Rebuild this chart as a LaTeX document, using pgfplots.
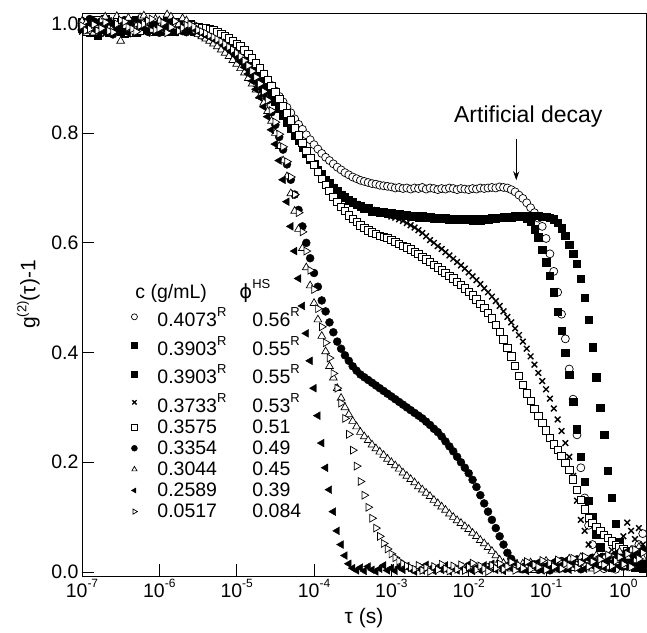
\documentclass[border=0pt]{standalone}
\usepackage{fontspec}
\setmainfont{Liberation Sans}
\newfontfamily\dejavu{DejaVu Sans}
\usepackage{pgfplots}
\pgfplotsset{compat=1.18}
\usepackage{pgfplotstable}
\usetikzlibrary{arrows.meta}

% g2(tau)-1 curves
% a: 0.4073  b,c: 0.3903  d: 0.3733  e: 0.3575  f: 0.3354  g: 0.3044  h: 0.2589  i: 0.0517
\pgfplotstableread{
t a b c d e f g h i
1.000e-7 0.995 0.990 1.002 0.985 0.998 0.992 1.004 0.988 0.996
1.122e-7 0.991 0.996 0.989 1.006 0.985 0.993 1.000 0.994 0.987
1.259e-7 0.988 1.005 0.983 0.998 0.992 1.008 0.986 0.999 0.990
1.413e-7 0.997 0.984 1.001 0.992 0.995 1.004 0.983 0.989 0.998
1.585e-7 1.001 0.978 0.995 0.990 1.006 0.984 0.997 1.003 0.987
1.778e-7 0.985 1.007 0.993 0.986 0.999 0.990 1.006 0.997 0.991
1.995e-7 0.992 0.996 1.008 0.981 0.989 0.999 1.012 0.985 1.002
2.239e-7 1.002 0.990 0.984 0.995 0.988 0.997 0.991 1.004 0.986
2.512e-7 0.997 0.987 0.991 1.004 0.995 0.980 0.993 0.998 0.984
2.818e-7 0.990 0.997 1.003 0.983 1.004 0.987 1.013 0.992 0.999
3.162e-7 0.986 1.002 0.985 0.994 1.001 0.996 0.968 0.990 1.006
3.548e-7 0.996 0.981 0.992 1.001 0.991 1.006 0.995 0.986 1.003
3.981e-7 1.004 0.991 0.999 0.987 0.984 1.003 1.010 0.982 0.993
4.467e-7 0.987 1.004 0.988 0.993 0.997 0.992 0.985 1.000 0.990
5.012e-7 0.990 0.983 1.006 0.999 0.997 0.988 0.995 1.007 0.985
5.623e-7 1.005 0.993 0.998 0.989 0.986 0.999 1.011 0.994 0.996
6.310e-7 0.998 1.000 0.989 0.984 1.005 0.993 1.014 0.991 0.999
7.079e-7 0.994 0.988 1.002 0.997 1.003 0.985 0.997 0.983 1.005
7.943e-7 0.985 0.994 0.997 1.003 0.990 1.001 0.988 0.996 1.008
8.913e-7 0.989 1.001 0.986 0.991 0.994 1.002 1.008 0.999 0.988
1.000e-6 1.003 0.986 0.992 0.993 0.999 0.983 1.005 0.989 0.991
1.122e-6 0.999 0.992 0.995 1.004 0.987 0.994 0.989 0.991 1.001
1.259e-6 0.993 0.998 1.004 0.986 0.988 0.997 1.016 1.001 0.983
1.413e-6 0.992 0.985 1.003 0.988 1.000 0.989 1.012 1.004 0.993
1.585e-6 0.989 0.991 0.985 0.997 1.002 0.990 0.994 0.984 1.004
1.778e-6 1.001 0.997 0.990 0.994 0.992 1.000 0.998 0.988 0.986
1.995e-6 0.999 1.003 0.994 0.989 0.994 0.986 1.009 0.993 0.992
2.239e-6 0.988 0.994 0.997 1.000 0.999 0.984 1.005 0.996 0.997
2.512e-6 0.994 0.988 0.999 0.995 0.997 0.991 0.990 0.987 0.998
2.818e-6 0.996 0.986 0.991 0.992 0.993 0.988 0.986 0.990 0.994
3.162e-6 0.993 0.989 0.993 0.990 0.994 0.982 0.980 0.985 0.988
3.548e-6 0.990 0.991 0.986 0.988 0.992 0.978 0.976 0.982 0.985
3.981e-6 0.988 0.984 0.988 0.987 0.991 0.975 0.972 0.978 0.982
4.467e-6 0.986 0.983 0.981 0.985 0.990 0.971 0.968 0.975 0.978
5.012e-6 0.983 0.979 0.982 0.981 0.987 0.967 0.963 0.971 0.975
5.623e-6 0.980 0.977 0.975 0.978 0.984 0.963 0.958 0.968 0.971
6.310e-6 0.976 0.971 0.973 0.972 0.981 0.958 0.952 0.965 0.967
7.079e-6 0.972 0.968 0.966 0.969 0.977 0.953 0.946 0.958 0.962
7.943e-6 0.968 0.962 0.964 0.963 0.973 0.947 0.940 0.952 0.957
8.913e-6 0.963 0.957 0.956 0.958 0.968 0.941 0.933 0.946 0.952
1.000e-5 0.958 0.951 0.952 0.950 0.963 0.935 0.926 0.940 0.946
1.122e-5 0.952 0.944 0.943 0.945 0.958 0.928 0.918 0.930 0.940
1.259e-5 0.945 0.936 0.937 0.935 0.951 0.920 0.910 0.920 0.932
1.413e-5 0.939 0.928 0.927 0.929 0.944 0.911 0.900 0.908 0.923
1.585e-5 0.931 0.920 0.921 0.919 0.936 0.901 0.890 0.895 0.913
1.778e-5 0.923 0.910 0.909 0.911 0.927 0.890 0.879 0.880 0.902
1.995e-5 0.915 0.900 0.901 0.899 0.918 0.879 0.867 0.865 0.890
2.239e-5 0.906 0.890 0.889 0.891 0.908 0.870 0.855 0.848 0.876
2.512e-5 0.897 0.879 0.880 0.878 0.897 0.860 0.840 0.830 0.860
2.818e-5 0.887 0.868 0.867 0.869 0.886 0.838 0.822 0.806 0.841
3.162e-5 0.877 0.857 0.858 0.856 0.874 0.815 0.800 0.780 0.820
3.548e-5 0.867 0.845 0.844 0.846 0.862 0.793 0.776 0.750 0.798
3.981e-5 0.857 0.833 0.834 0.832 0.849 0.770 0.750 0.715 0.775
4.467e-5 0.847 0.821 0.820 0.822 0.836 0.743 0.721 0.675 0.748
5.012e-5 0.837 0.809 0.810 0.808 0.823 0.715 0.690 0.630 0.720
5.623e-5 0.826 0.797 0.796 0.798 0.809 0.688 0.658 0.585 0.688
6.310e-5 0.816 0.786 0.787 0.785 0.796 0.660 0.625 0.535 0.655
7.079e-5 0.807 0.774 0.773 0.775 0.782 0.630 0.590 0.485 0.620
7.943e-5 0.797 0.763 0.764 0.762 0.768 0.600 0.555 0.435 0.585
8.913e-5 0.788 0.753 0.752 0.754 0.755 0.572 0.522 0.385 0.550
1.000e-4 0.779 0.742 0.743 0.741 0.742 0.545 0.490 0.335 0.515
1.122e-4 0.771 0.733 0.732 0.734 0.729 0.520 0.460 0.285 0.480
1.259e-4 0.763 0.724 0.725 0.723 0.717 0.495 0.430 0.235 0.447
1.413e-4 0.756 0.715 0.714 0.716 0.706 0.475 0.402 0.190 0.418
1.585e-4 0.750 0.708 0.709 0.707 0.695 0.455 0.375 0.150 0.390
1.778e-4 0.744 0.701 0.700 0.702 0.684 0.437 0.354 0.110 0.362
1.995e-4 0.738 0.694 0.695 0.693 0.675 0.420 0.335 0.075 0.335
2.239e-4 0.733 0.688 0.687 0.689 0.666 0.407 0.317 0.050 0.308
2.512e-4 0.728 0.683 0.684 0.682 0.658 0.395 0.300 0.030 0.280
2.818e-4 0.724 0.678 0.677 0.679 0.650 0.385 0.287 0.015 0.251
3.162e-4 0.720 0.674 0.675 0.673 0.644 0.375 0.275 0.007 0.222
3.548e-4 0.717 0.670 0.669 0.671 0.638 0.367 0.265 0.003 0.193
3.981e-4 0.714 0.667 0.668 0.666 0.632 0.360 0.255 0.008 0.165
4.467e-4 0.712 0.664 0.663 0.665 0.627 0.355 0.247 0.002 0.140
5.012e-4 0.710 0.662 0.663 0.661 0.623 0.350 0.240 0.010 0.118
5.623e-4 0.708 0.659 0.658 0.660 0.619 0.345 0.232 0.004 0.098
6.310e-4 0.707 0.658 0.659 0.657 0.616 0.340 0.225 0.001 0.080
7.079e-4 0.705 0.656 0.655 0.656 0.613 0.335 0.219 0.006 0.065
7.943e-4 0.704 0.655 0.656 0.654 0.611 0.330 0.213 0.012 0.052
8.913e-4 0.703 0.654 0.653 0.651 0.609 0.325 0.206 0.003 0.042
1.000e-3 0.702 0.653 0.654 0.648 0.605 0.320 0.200 0.007 0.033
1.122e-3 0.700 0.652 0.651 0.646 0.602 0.315 0.194 0.002 0.026
1.259e-3 0.701 0.651 0.652 0.643 0.598 0.310 0.188 0.009 0.020
1.413e-3 0.699 0.650 0.649 0.640 0.595 0.305 0.181 0.004 0.015
1.585e-3 0.700 0.650 0.651 0.636 0.592 0.300 0.175 0.011 0.011
1.778e-3 0.698 0.649 0.648 0.632 0.588 0.295 0.169 0.005 0.008
1.995e-3 0.700 0.649 0.650 0.628 0.584 0.290 0.163 0.001 0.005
2.239e-3 0.699 0.648 0.647 0.623 0.580 0.285 0.156 0.008 0.012
2.512e-3 0.701 0.648 0.649 0.618 0.575 0.280 0.150 0.003 0.003
2.818e-3 0.698 0.647 0.646 0.612 0.570 0.274 0.144 0.013 0.008
3.162e-3 0.700 0.647 0.648 0.605 0.565 0.268 0.138 0.006 0.001
3.548e-3 0.699 0.646 0.645 0.600 0.560 0.261 0.131 0.002 0.010
3.981e-3 0.697 0.645 0.646 0.594 0.555 0.255 0.125 0.009 0.004
4.467e-3 0.699 0.645 0.644 0.589 0.550 0.247 0.119 0.004 0.014
5.012e-3 0.698 0.644 0.645 0.583 0.545 0.238 0.113 0.012 0.006
5.623e-3 0.700 0.644 0.643 0.577 0.540 0.229 0.106 0.001 0.002
6.310e-3 0.699 0.643 0.644 0.571 0.535 0.220 0.100 0.007 0.011
7.079e-3 0.697 0.643 0.642 0.565 0.529 0.210 0.094 0.003 0.005
7.943e-3 0.699 0.642 0.643 0.559 0.523 0.200 0.089 0.010 0.013
8.913e-3 0.698 0.642 0.642 0.553 0.517 0.190 0.083 0.005 0.003
1.000e-2 0.697 0.642 0.643 0.546 0.511 0.180 0.078 0.014 0.009
1.122e-2 0.699 0.641 0.642 0.539 0.504 0.168 0.071 0.002 0.016
1.259e-2 0.698 0.642 0.643 0.532 0.497 0.155 0.065 0.008 0.004
1.413e-2 0.700 0.642 0.641 0.525 0.489 0.140 0.058 0.003 0.011
1.585e-2 0.699 0.643 0.644 0.517 0.481 0.125 0.052 0.012 0.006
1.778e-2 0.700 0.643 0.643 0.510 0.472 0.110 0.045 0.006 0.001
1.995e-2 0.701 0.644 0.645 0.502 0.462 0.095 0.038 0.015 0.012
2.239e-2 0.700 0.645 0.644 0.494 0.451 0.080 0.030 0.004 0.007
2.512e-2 0.702 0.646 0.646 0.485 0.438 0.065 0.022 0.010 0.015
2.818e-2 0.701 0.647 0.646 0.475 0.424 0.050 0.016 0.002 0.005
3.162e-2 0.700 0.648 0.648 0.465 0.409 0.035 0.010 0.013 0.010
3.548e-2 0.697 0.648 0.647 0.455 0.393 0.024 0.006 0.007 0.018
3.981e-2 0.693 0.649 0.649 0.444 0.376 0.015 0.012 0.016 0.003
4.467e-2 0.687 0.649 0.648 0.432 0.358 0.009 0.004 0.005 0.012
5.012e-2 0.681 0.648 0.649 0.420 0.341 0.005 0.015 0.011 0.007
5.623e-2 0.673 0.645 0.649 0.407 0.326 0.012 0.008 0.002 0.019
6.310e-2 0.664 0.638 0.650 0.393 0.312 0.006 0.017 0.014 0.005
7.079e-2 0.655 0.625 0.649 0.378 0.297 0.014 0.003 0.008 0.013
7.943e-2 0.645 0.610 0.649 0.363 0.285 0.004 0.011 0.018 0.009
8.913e-2 0.630 0.588 0.648 0.348 0.272 0.017 0.006 0.003 0.021
1.000e-1 0.608 0.565 0.648 0.333 0.258 0.009 0.020 0.012 0.004
1.122e-1 0.580 0.540 0.646 0.316 0.245 0.003 0.009 0.007 0.016
1.259e-1 0.548 0.510 0.643 0.298 0.233 0.015 0.014 0.019 0.010
1.413e-1 0.510 0.475 0.637 0.278 0.223 0.008 0.004 0.005 0.022
1.585e-1 0.470 0.440 0.627 0.257 0.212 0.020 0.018 0.013 0.006
1.778e-1 0.425 0.400 0.613 0.235 0.199 0.006 0.010 0.021 0.015
1.995e-1 0.370 0.360 0.597 0.210 0.186 0.016 0.024 0.004 0.011
2.239e-1 0.315 0.310 0.580 0.175 0.169 0.011 0.007 0.015 0.025
2.512e-1 0.250 0.260 0.562 0.130 0.150 0.023 0.016 0.009 0.008
2.818e-1 0.190 0.210 0.535 0.095 0.132 0.005 0.027 0.019 0.017
3.162e-1 0.135 0.165 0.500 0.075 0.114 0.018 0.012 0.006 0.028
3.548e-1 0.085 0.130 0.460 0.050 0.099 0.012 0.021 0.024 0.010
3.981e-1 0.050 0.100 0.410 0.025 0.090 0.026 0.006 0.011 0.019
4.467e-1 0.025 0.068 0.355 0.015 0.082 0.009 0.030 0.017 0.004
5.012e-1 0.012 0.045 0.300 0.020 0.075 0.021 0.014 0.028 0.023
5.623e-1 0.006 0.028 0.250 0.010 0.068 0.014 0.025 0.008 0.013
6.310e-1 0.010 0.015 0.185 0.025 0.062 0.029 0.009 0.022 0.031
7.079e-1 0.020 0.008 0.135 0.040 0.056 0.007 0.033 0.015 0.011
7.943e-1 0.005 0.018 0.088 0.030 0.050 0.024 0.018 0.034 0.020
8.913e-1 0.015 0.026 0.055 0.050 0.045 0.016 0.037 0.010 0.027
1.000e0 0.010 0.012 0.035 0.065 0.041 0.032 0.011 0.026 0.014
1.122e0 0.030 0.022 0.020 0.090 0.038 0.010 0.028 0.038 0.033
1.259e0 0.020 0.035 0.012 0.075 0.035 0.027 0.040 0.017 0.009
1.413e0 0.040 0.015 0.008 0.060 0.033 0.036 0.021 0.030 0.041
1.585e0 0.050 0.030 0.010 0.080 0.040 0.015 0.045 0.012 0.024
1.778e0 0.070 0.020 0.006 0.050 0.030 0.040 0.026 0.042 0.035
1.995e0 0.080 0.038 0.009 0.030 0.035 0.022 0.048 0.020 0.045
}\tbl

\newcommand{\sR}{\raisebox{10pt}{\fontsize{13}{13}\selectfont R}\rule{0pt}{21pt}}
\newcommand{\ex}[1]{10\raisebox{10pt}{\fontsize{12}{12}\selectfont #1}}

\pgfplotsset{
  dls/.style={only marks, black,
    legend image code/.code={\draw[##1,mark size=3pt] plot coordinates {(0pt,0pt)};}},
}

\begin{document}
\begin{tikzpicture}
\begin{axis}[
  name=ax,
  scale only axis, width=564pt, height=563pt,
  xmode=log, xmin=1e-7, xmax=1.96,
  ymin=-0.0073, ymax=1.019,
  axis line style={line width=0.8pt},
  tick style={line width=0.8pt, black},
  major tick length=12pt,
  tick align=inside, tick pos=left,
  xminorticks=false, yminorticks=false,
  xtick={1e-7,1e-6,1e-5,1e-4,1e-3,1e-2,1e-1,1},
  xticklabels={\ex{-7},\ex{-6},\ex{-5},\ex{-4},\ex{-3},\ex{-2},\ex{-1},\ex{0}},
  ytick={0,0.2,0.4,0.6,0.8,1},
  yticklabels={0.0,0.2,0.4,0.6,0.8,1.0},
  tick label style={font=\fontsize{19.5}{20}\selectfont},
  xlabel={τ (s)},
  xlabel style={font=\fontsize{21}{22}\selectfont, at={(axis description cs:0.5,0)}, anchor=north, inner sep=0pt, yshift=-32pt},
  ylabel={g\raisebox{9pt}{\fontsize{13}{13}\selectfont (2)}(τ)-1},
  ylabel style={font=\fontsize{21}{22}\selectfont, at={(axis description cs:-0.0745,0.5)}, anchor=south, inner sep=0pt},
  legend cell align=left,
  legend style={draw=none, fill=none, at={(0.082,0.535)}, anchor=north west,
    font=\fontsize{19.5}{20}\selectfont, row sep=2pt, column sep=18pt,
    nodes={inner sep=2pt}},
]
\addlegendimage{empty legend}
\addlegendentry{\hspace{-22pt}\makebox[104pt][l]{c (g/mL)}{\dejavu ϕ}\raisebox{10pt}{\fontsize{13}{13}\selectfont HS}}

\addplot[dls, mark=*, mark size=4pt, mark options={fill=white, line width=0.7pt}] table[x=t, y=a] {\tbl};
\addlegendentry{\makebox[95pt][l]{0.4073\sR}0.56\sR}
\addplot[dls, mark=square*, mark size=3.7pt] table[x=t, y=b] {\tbl};
\addlegendentry{\makebox[95pt][l]{0.3903\sR}0.55\sR}
\addplot[dls, mark=square*, mark size=3.7pt] table[x=t, y=c] {\tbl};
\addlegendentry{\makebox[95pt][l]{0.3903\sR}0.55\sR}
\addplot[dls, mark=x, mark size=4pt, mark options={line width=1.4pt}] table[x=t, y=d] {\tbl};
\addlegendentry{\makebox[95pt][l]{0.3733\sR}0.53\sR}
\addplot[dls, mark=square*, mark size=3.7pt, mark options={fill=white, line width=0.7pt}] table[x=t, y=e] {\tbl};
\addlegendentry{\makebox[95pt][l]{0.3575}0.51}
\addplot[dls, mark=*, mark size=4pt] table[x=t, y=f] {\tbl};
\addlegendentry{\makebox[95pt][l]{0.3354}0.49}
\addplot[dls, mark=triangle*, mark size=4.5pt, mark options={fill=white, line width=0.7pt}] table[x=t, y=g] {\tbl};
\addlegendentry{\makebox[95pt][l]{0.3044}0.45}
\addplot[dls, mark=triangle*, mark size=4.5pt, mark options={rotate=90}] table[x=t, y=h] {\tbl};
\addlegendentry{\makebox[95pt][l]{0.2589}0.39}
\addplot[dls, mark=triangle*, mark size=4.5pt, mark options={rotate=-90, fill=white, line width=0.7pt}] table[x=t, y=i] {\tbl};
\addlegendentry{\makebox[95pt][l]{0.0517}0.084}

\node[anchor=base, inner sep=0pt, font=\fontsize{23}{23}\selectfont] at (axis cs:0.0589,0.8196) {Artificial decay};
\draw[line width=1pt, -{Stealth[length=9pt,width=6pt]}] (axis cs:0.0412,0.79) -- (axis cs:0.0412,0.714);
\end{axis}
\pgfresetboundingbox
\path ([shift={(-82pt,-57pt)}]ax.south west) rectangle ([shift={(1pt,13pt)}]ax.north east);
\end{tikzpicture}
\end{document}
